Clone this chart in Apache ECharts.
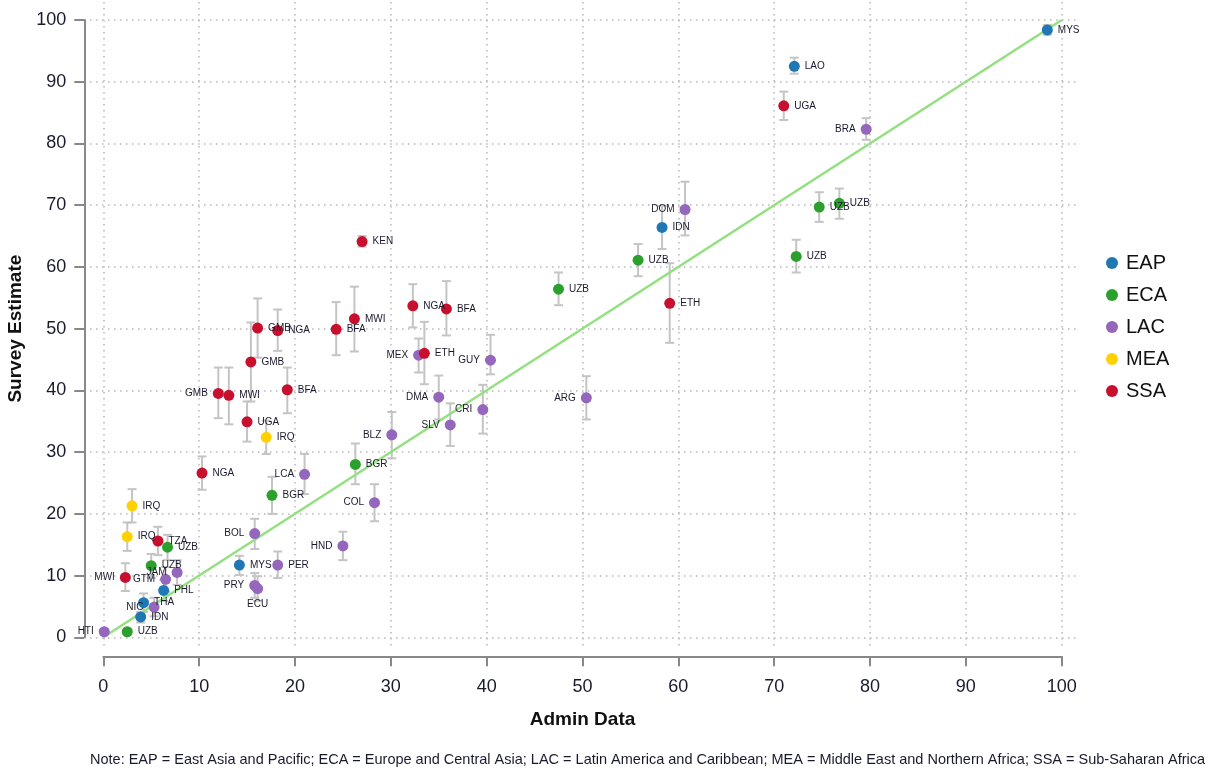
<!DOCTYPE html>
<html>
<head>
<meta charset="utf-8">
<title>Survey Estimate vs Admin Data</title>
<script src="https://cdn.jsdelivr.net/npm/echarts@6/dist/echarts.min.js"></script>
<style>
    html, body { margin: 0; padding: 0; background: #fff; }
    #chart { width: 1212px; height: 771px; }
</style>
</head>
<body>
<div id="chart"></div>
<script>
// each row: [code, admin data, survey estimate, ci low, ci high]
var eap = [
    ['MYS', 98.5, 98.4, 97.6, 99.2],
    ['LAO', 72.1, 92.5, 91.3, 93.9],
    ['IDN', 58.3, 66.4, 62.9, 69.9],
    ['MYS', 14.2, 11.7, 10.1, 13.2],
    ['PHL', 6.3, 7.6, 5.9, 9.3],
    ['THA', 4.2, 5.6, 4.1, 7.1],
    ['IDN', 3.9, 3.3, 2.4, 4.1]
];
var eca = [
    ['UZB', 74.7, 69.7, 67.3, 72.1],
    ['UZB', 76.8, 70.3, 67.8, 72.7],
    ['UZB', 72.3, 61.7, 59.1, 64.4],
    ['UZB', 55.8, 61.1, 58.5, 63.7],
    ['UZB', 47.5, 56.4, 53.8, 59.1],
    ['BGR', 26.3, 28.0, 24.8, 31.4],
    ['BGR', 17.6, 23.0, 20.0, 26.0],
    ['UZB', 6.7, 14.6, 12.5, 16.6],
    ['UZB', 5.0, 11.6, 9.6, 13.5],
    ['UZB', 2.5, 0.9, 0.5, 1.3]
];
var lac = [
    ['BRA', 79.6, 82.3, 80.6, 84.1],
    ['DOM', 60.7, 69.3, 65.1, 73.8],
    ['ARG', 50.4, 38.8, 35.3, 42.3],
    ['GUY', 40.4, 44.9, 42.6, 49.0],
    ['MEX', 32.9, 45.7, 42.9, 48.4],
    ['DMA', 35.0, 38.9, 35.3, 42.4],
    ['CRI', 39.6, 36.9, 33.0, 40.9],
    ['SLV', 36.2, 34.4, 31.0, 37.9],
    ['BLZ', 30.1, 32.8, 29.0, 36.5],
    ['LCA', 21.0, 26.4, 23.2, 29.7],
    ['COL', 28.3, 21.8, 18.8, 24.8],
    ['BOL', 15.8, 16.8, 14.3, 19.2],
    ['HND', 25.0, 14.8, 12.5, 17.1],
    ['PER', 18.2, 11.7, 9.6, 13.9],
    ['PRY', 15.8, 8.4, 6.4, 10.4],
    ['ECU', 16.1, 7.9, 5.9, 9.9],
    ['JAM', 7.7, 10.5, 8.5, 12.5],
    ['GTM', 6.5, 9.4, 7.4, 11.4],
    ['NIC', 5.3, 4.9, 3.4, 6.4],
    ['HTI', 0.1, 0.9, 0.5, 1.3]
];
var mea = [
    ['IRQ', 17.0, 32.4, 29.7, 35.1],
    ['IRQ', 3.0, 21.3, 18.6, 24.0],
    ['IRQ', 2.5, 16.3, 14.0, 18.6]
];
var ssa = [
    ['UGA', 71.0, 86.1, 83.8, 88.4],
    ['KEN', 27.0, 64.1, 63.3, 65.0],
    ['ETH', 59.1, 54.1, 47.7, 60.6],
    ['NGA', 32.3, 53.7, 50.2, 57.2],
    ['BFA', 35.8, 53.2, 48.9, 57.7],
    ['MWI', 26.2, 51.6, 46.3, 56.8],
    ['BFA', 24.3, 49.9, 45.7, 54.3],
    ['ETH', 33.5, 46.0, 41.0, 51.1],
    ['GMB', 16.1, 50.1, 45.3, 54.9],
    ['NGA', 18.2, 49.7, 46.4, 53.1],
    ['GMB', 15.4, 44.6, 38.2, 51.0],
    ['GMB', 12.0, 39.5, 35.5, 43.7],
    ['MWI', 13.1, 39.2, 34.5, 43.7],
    ['BFA', 19.2, 40.1, 36.3, 43.7],
    ['UGA', 15.0, 34.9, 31.7, 38.2],
    ['NGA', 10.3, 26.6, 23.9, 29.3],
    ['TZA', 5.7, 15.6, 13.3, 17.9],
    ['MWI', 2.3, 9.7, 7.5, 12.0]
];

var regions = ['EAP', 'ECA', 'LAC', 'MEA', 'SSA'];
var regionRows = { EAP: eap, ECA: eca, LAC: lac, MEA: mea, SSA: ssa };
var xTicks = [0, 10, 20, 30, 40, 50, 60, 70, 80, 90, 100];
var yTicks = [0, 10, 20, 30, 40, 50, 60, 70, 80, 90, 100];
var diagonal = [[0, 0], [100, 100]];

var noteText = 'Note: EAP = East Asia and Pacific; ECA = Europe and Central Asia; LAC = Latin America and Caribbean; ' +
    'MEA = Middle East and Northern Africa; SSA = Sub-Saharan Africa';

// styling
var colors = { EAP: '#1f77b4', ECA: '#2ca02c', LAC: '#9467bd', MEA: '#ffd100', SSA: '#c8102e' };
// which rows put their label on the left / below the marker (row index per region)
var labelLeft = { LAC: [0, 1, 2, 3, 4, 5, 6, 7, 8, 9, 10, 11, 12, 14, 16, 17, 18, 19], SSA: [11, 17] };
var labelBelow = { LAC: [15] };

var FONT = '"Liberation Sans", Arial, sans-serif';
var TEXT = '#1a1a2e';

var chart = echarts.init(document.getElementById('chart'));

function labelSide(region, i) {
    if (labelLeft[region] && labelLeft[region].indexOf(i) >= 0) return 'left';
    if (labelBelow[region] && labelBelow[region].indexOf(i) >= 0) return 'bottom';
    return 'right';
}

// error bar (vertical whisker with caps)
function renderErr(params, api) {
    var x = api.value(0);
    var lo = api.coord([x, api.value(1)]);
    var hi = api.coord([x, api.value(2)]);
    var w = 4.5;
    var st = { stroke: '#c4c4c4', lineWidth: 2 };
    return {
        type: 'group',
        children: [
            { type: 'line', shape: { x1: hi[0], y1: hi[1], x2: lo[0], y2: lo[1] }, style: st },
            { type: 'line', shape: { x1: hi[0] - w, y1: hi[1], x2: hi[0] + w, y2: hi[1] }, style: st },
            { type: 'line', shape: { x1: lo[0] - w, y1: lo[1], x2: lo[0] + w, y2: lo[1] }, style: st }
        ]
    };
}

var errData = [];
regions.forEach(function (r) {
    regionRows[r].forEach(function (d) { errData.push([d[1], d[3], d[4]]); });
});

var series = [
    {
        type: 'custom',
        xAxisIndex: 1, yAxisIndex: 1,
        renderItem: renderErr,
        encode: { x: 0, y: [1, 2] },
        data: errData,
        silent: true,
        z: 2
    },
    {
        type: 'line',
        xAxisIndex: 1, yAxisIndex: 1,
        data: diagonal,
        symbol: 'none',
        lineStyle: { color: '#92e07f', width: 2.5 },
        silent: true,
        z: 3
    }
];

regions.forEach(function (r) {
    series.push({
        name: r,
        type: 'scatter',
        xAxisIndex: 1, yAxisIndex: 1,
        symbolSize: 11,
        itemStyle: { color: colors[r], opacity: 1 },
        z: 4,
        label: {
            show: true,
            formatter: '{b}',
            fontFamily: FONT,
            fontSize: 10,
            color: TEXT,
            distance: 5
        },
        data: regionRows[r].map(function (d, i) {
            return { name: d[0], value: [d[1], d[2]], label: { position: labelSide(r, i) } };
        })
    });
});

var option = {
    animation: false,
    backgroundColor: '#fff',
    textStyle: { fontFamily: FONT },
    title: {
        text: noteText,
        left: 85,
        top: 747,
        textStyle: { fontFamily: FONT, fontSize: 14.5, fontWeight: 'normal', color: TEXT }
    },
    legend: {
        data: regions,
        orient: 'vertical',
        left: 1101,
        top: 248,
        icon: 'circle',
        itemWidth: 12,
        itemHeight: 12,
        itemGap: 12,
        textStyle: { fontFamily: FONT, fontSize: 20, color: '#111', padding: [0, 0, 0, 3] }
    },
    grid: [
        // background grid with the dotted lines (slightly wider than the data range)
        { left: 90, top: 2, right: 134, bottom: 121, show: false, outerBoundsMode: 'none', containLabel: false },
        // data grid, 0..100 on both axes
        { left: 103.3, top: 20, width: 958.4, height: 617.3, show: false, outerBoundsMode: 'none', containLabel: false }
    ],
    xAxis: [
        {
            gridIndex: 0, type: 'value', min: -1.39, max: 101.7,
            axisLine: { show: false },
            axisLabel: { show: false },
            axisTick: { show: false, customValues: xTicks },
            splitLine: { show: true, lineStyle: { color: '#b8b8b8', width: 1.5, type: [1.5, 4.5] } }
        },
        {
            gridIndex: 1, type: 'value', min: 0, max: 100, interval: 10,
            position: 'bottom',
            offset: 19,
            name: 'Admin Data',
            nameLocation: 'middle',
            nameGap: 54,
            nameTextStyle: { fontFamily: FONT, fontSize: 19, fontWeight: 'bold', color: '#111' },
            axisLine: { show: true, onZero: false, lineStyle: { color: '#888', width: 2 } },
            axisTick: { show: true, length: 10, lineStyle: { color: '#888', width: 2 } },
            axisLabel: { fontFamily: FONT, fontSize: 18, color: TEXT, margin: 22 },
            splitLine: { show: false }
        }
    ],
    yAxis: [
        {
            gridIndex: 0, type: 'value', min: -2.06, max: 102.92,
            axisLine: { show: false },
            axisLabel: { show: false },
            axisTick: { show: false, customValues: yTicks },
            splitLine: { show: true, lineStyle: { color: '#b8b8b8', width: 1.5, type: [1.5, 4.5] } }
        },
        {
            gridIndex: 1, type: 'value', min: 0, max: 100, interval: 10,
            position: 'left',
            offset: 19,
            name: 'Survey Estimate',
            nameLocation: 'middle',
            nameGap: 55,
            nameTextStyle: { fontFamily: FONT, fontSize: 19, fontWeight: 'bold', color: '#111' },
            axisLine: { show: true, onZero: false, lineStyle: { color: '#888', width: 2 } },
            axisTick: { show: true, length: 10, lineStyle: { color: '#888', width: 2 } },
            axisLabel: { fontFamily: FONT, fontSize: 18, color: TEXT, margin: 18 },
            splitLine: { show: false }
        }
    ],
    series: series
};

chart.setOption(option);
</script>
</body>
</html>
